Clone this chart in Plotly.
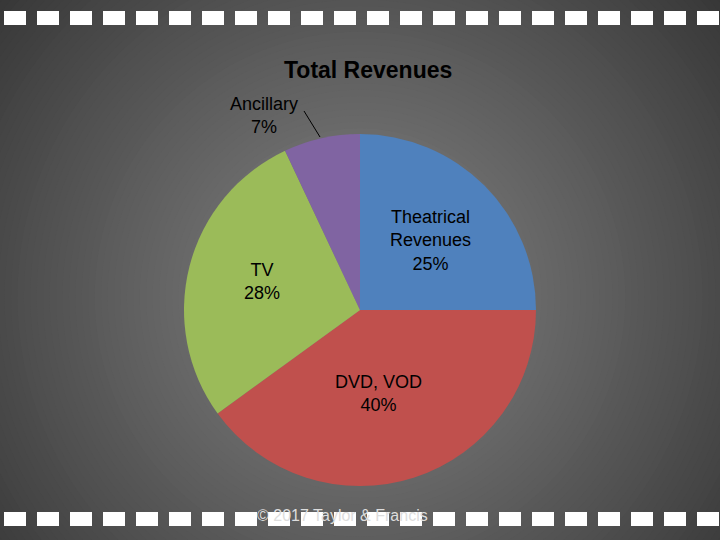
import plotly.graph_objects as go

categories = ["Theatrical<br>Revenues", "DVD, VOD", "TV", "Ancillary"]
values = [25, 40, 28, 7]
colors = ["#4F81BD", "#C0504D", "#9BBB59", "#8064A2"]

W, H = 720, 540
def px(x, y):
    return x / W, 1 - y / H

shapes = []
n = 110
for i in range(n):
    t = i / (n - 1)
    s = 1.3 * (1 - t) + 0.05
    g = int(5 + 125 * t ** 0.9)
    cx, cy = 0.5, 0.45
    shapes.append(dict(type="circle", xref="paper", yref="paper",
                       x0=cx - s * 0.75, x1=cx + s * 0.75, y0=cy - s, y1=cy + s,
                       fillcolor=f"rgb({g},{g},{g})", line_width=0, layer="below"))
for row_y in (18, 519):
    x = 4
    while x < W:
        x0, y0 = px(x, row_y - 7)
        x1, y1 = px(x + 22, row_y + 7)
        shapes.append(dict(type="rect", xref="paper", yref="paper", x0=x0, x1=x1,
                           y0=y1, y1=y0, fillcolor="white", line_width=0, layer="below"))
        x += 33
a0 = px(304, 111); a1 = px(320, 137)
shapes.append(dict(type="line", xref="paper", yref="paper", x0=a0[0], y0=a0[1],
                   x1=a1[0], y1=a1[1], line=dict(color="black", width=1)))

fig = go.Figure(go.Pie(
    labels=categories, values=values, sort=False, direction="clockwise",
    rotation=0, marker=dict(colors=colors, line=dict(width=0)),
    textinfo="none", hoverinfo="label+percent", showlegend=False,
    domain=dict(x=[184 / W, 536 / W], y=[54 / H, 406 / H]),
))

label_pos = [(430, 240), (378, 393), (262, 281), (264, 115)]
annotations = []
for lab, v, (x, y) in zip(categories, values, label_pos):
    ax, ay = px(x, y)
    annotations.append(dict(text=f"{lab}<br>{v}%", x=ax, y=ay, xref="paper", yref="paper",
                            xanchor="center", yanchor="middle", showarrow=False,
                            font=dict(size=18, color="black", family="Liberation Sans")))
tx, ty = px(368, 70)
annotations.append(dict(text="<b>Total Revenues</b>", x=tx, y=ty, xref="paper", yref="paper",
                        xanchor="center", yanchor="middle", showarrow=False,
                        font=dict(size=23, color="black", family="Liberation Sans")))
cx_, cy_ = px(342, 515)
annotations.append(dict(text="© 2017 Taylor & Francis", x=cx_, y=cy_, xref="paper", yref="paper",
                        xanchor="center", yanchor="middle", showarrow=False,
                        font=dict(size=16, color="#dddddd", family="Liberation Sans")))

fig.update_layout(width=W, height=H, margin=dict(l=0, r=0, t=0, b=0),
                  paper_bgcolor="black", plot_bgcolor="black",
                  shapes=shapes, annotations=annotations)
fig.write_html("out.html", config={"displayModeBar": False})
with open("out.html", encoding="utf-8") as f:
    html = f.read()
html = html.replace("<head>", "<head><style>html,body{margin:0;padding:0;background:black;overflow:hidden}</style>", 1)
with open("out.html", "w", encoding="utf-8") as f:
    f.write(html)
